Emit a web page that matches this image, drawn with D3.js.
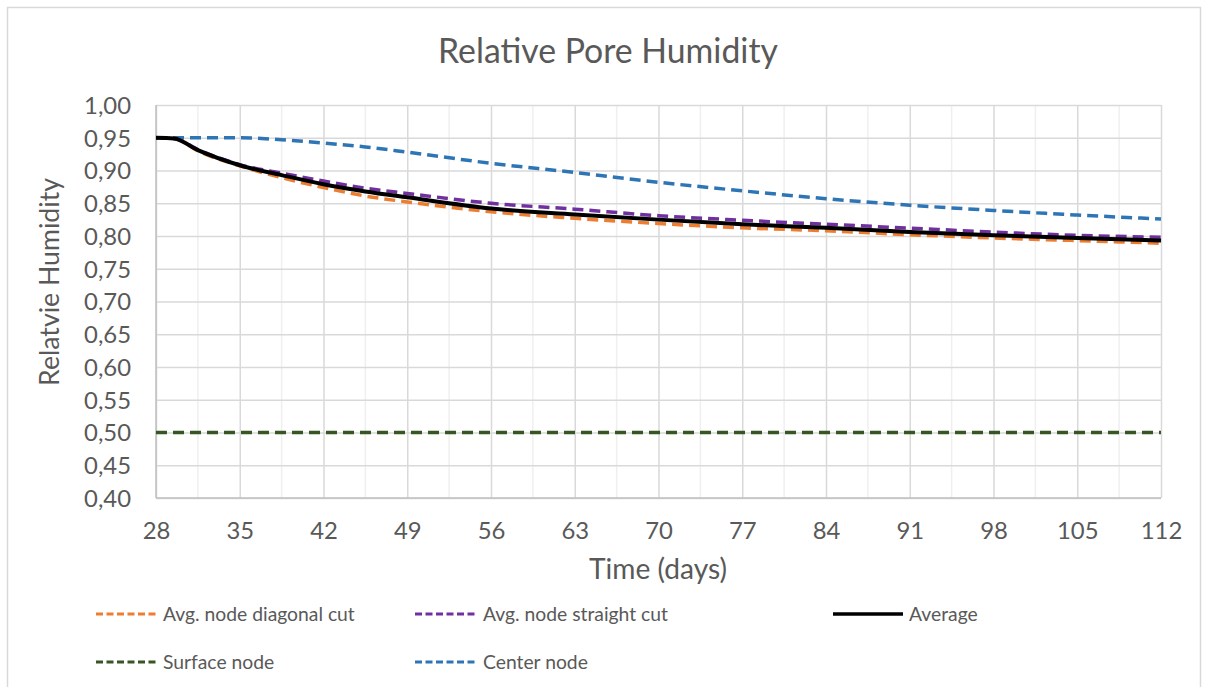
<!DOCTYPE html>
<html>
<head>
<meta charset="utf-8">
<script src="https://cdn.jsdelivr.net/npm/d3@7"></script>
<style>
  html, body { margin: 0; padding: 0; background: #fff; }
  svg { display: block; }
  text { font-family: Lato, "Open Sans", "Liberation Sans", sans-serif; fill: #595959; }
</style>
</head>
<body>
<svg id="chart" width="1209" height="687"></svg>
<script>
const days = [28, 29.5, 31.5, 35, 38.5, 42, 45.5, 49, 56, 63, 70, 77, 84, 91, 98, 105, 112];
const diagonalCut = [0.950, 0.949, 0.930, 0.907, 0.889, 0.874, 0.861, 0.852, 0.837, 0.827, 0.819, 0.8125, 0.808, 0.802, 0.797, 0.793, 0.789];
const straightCut = [0.950, 0.949, 0.932, 0.909, 0.896, 0.884, 0.873, 0.865, 0.850, 0.841, 0.831, 0.824, 0.818, 0.812, 0.806, 0.801, 0.798];
const average     = [0.950, 0.949, 0.931, 0.908, 0.893, 0.879, 0.868, 0.859, 0.842, 0.833, 0.825, 0.818, 0.8125, 0.806, 0.801, 0.797, 0.793];
const surfaceNode = [0.50, 0.50, 0.50, 0.50, 0.50, 0.50, 0.50, 0.50, 0.50, 0.50, 0.50, 0.50, 0.50, 0.50, 0.50, 0.50, 0.50];
const centerNode  = [0.950, 0.950, 0.950, 0.950, 0.947, 0.942, 0.936, 0.928, 0.911, 0.897, 0.882, 0.869, 0.857, 0.847, 0.839, 0.832, 0.826];

const xTicks = [28, 35, 42, 49, 56, 63, 70, 77, 84, 91, 98, 105, 112];
const xMinorTicks = [31.5, 38.5, 45.5, 52.5, 59.5, 66.5, 73.5, 80.5, 87.5, 94.5, 101.5, 108.5];
const yTicks = [0.40, 0.45, 0.50, 0.55, 0.60, 0.65, 0.70, 0.75, 0.80, 0.85, 0.90, 0.95, 1.00];

const titleText = "Relative Pore Humidity";
const xLabel = "Time (days)";
const yLabel = "Relatvie Humidity";

const series = [
  { name: "Avg. node diagonal cut", values: diagonalCut, color: "#ED7D31", dash: true },
  { name: "Avg. node straight cut", values: straightCut, color: "#7030A0", dash: true },
  { name: "Average", values: average, color: "#000000", dash: false },
  { name: "Surface node", values: surfaceNode, color: "#375623", dash: true },
  { name: "Center node", values: centerNode, color: "#2E75B6", dash: true }
];

const svg = d3.select("#chart");
const plot = { left: 156, right: 1161, top: 105, bottom: 498 };

function fitText(sel, target) {
  const w = sel.node().getComputedTextLength();
  const fs = parseFloat(sel.style("font-size"));
  const nfs = fs * target / w;
  sel.style("font-size", nfs + "px");
  return nfs;
}

// outer frame
svg.append("rect").attr("x", 7.5).attr("y", 7.5).attr("width", 1193).attr("height", 720)
  .attr("fill", "none").attr("stroke", "#d9d9d9").attr("stroke-width", 1.5);

const x = d3.scaleLinear().domain([28, 112]).range([plot.left, plot.right]);
const y = d3.scaleLinear().domain([0.40, 1.00]).range([plot.bottom, plot.top]);

// minor vertical gridlines
svg.append("g").selectAll("line").data(xMinorTicks).join("line")
  .attr("x1", d => x(d)).attr("x2", d => x(d))
  .attr("y1", plot.top).attr("y2", plot.bottom)
  .attr("stroke", "#efefef").attr("stroke-width", 1.5);

// major vertical gridlines
svg.append("g")
  .attr("transform", `translate(0,${plot.bottom})`)
  .call(d3.axisBottom(x).tickValues(xTicks).tickSize(-(plot.bottom - plot.top)).tickFormat(""))
  .call(g => g.select(".domain").remove())
  .call(g => g.selectAll("line").attr("stroke", "#d9d9d9").attr("stroke-width", 1.5));

// horizontal gridlines
svg.append("g")
  .attr("transform", `translate(${plot.left},0)`)
  .call(d3.axisLeft(y).tickValues(yTicks).tickSize(-(plot.right - plot.left)).tickFormat(""))
  .call(g => g.select(".domain").remove())
  .call(g => g.selectAll("line").attr("stroke", "#d9d9d9").attr("stroke-width", 1.5));

// axis lines
svg.append("line").attr("x1", plot.left).attr("x2", plot.left).attr("y1", plot.top).attr("y2", plot.bottom)
  .attr("stroke", "#bfbfbf").attr("stroke-width", 1.5);
svg.append("line").attr("x1", plot.left).attr("x2", plot.right).attr("y1", plot.bottom).attr("y2", plot.bottom)
  .attr("stroke", "#bfbfbf").attr("stroke-width", 1.5);

// measure tick font size
const probe = svg.append("text").style("font-size", "20px").text("0,40");
const tickFs = fitText(probe, 47);
probe.remove();

// tick labels
const fmt = d => d3.format(".2f")(d).replace(".", ",");
const yAxis = svg.append("g")
  .attr("transform", `translate(${plot.left},0)`)
  .call(d3.axisLeft(y).tickValues(yTicks).tickSize(0).tickPadding(25).tickFormat(fmt));
yAxis.select(".domain").remove();
yAxis.selectAll("text").style("font-size", tickFs + "px").attr("fill", "#595959").attr("dy", "0.35em");

const xAxis = svg.append("g")
  .attr("transform", `translate(0,${plot.bottom})`)
  .call(d3.axisBottom(x).tickValues(xTicks).tickSize(0).tickPadding(24).tickFormat(d3.format("d")));
xAxis.select(".domain").remove();
xAxis.selectAll("text").style("font-size", tickFs + "px").attr("fill", "#595959");

// lines
const line = d3.line().x((d, i) => x(days[i])).y(d => y(d)).curve(d3.curveMonotoneX);
const drawOrder = [3, 4, 0, 1, 2];
drawOrder.forEach(k => {
  const s = series[k];
  svg.append("path").datum(s.values)
    .attr("d", line)
    .attr("fill", "none")
    .attr("stroke", s.color)
    .attr("stroke-width", s.dash ? 3.5 : 4)
    .attr("stroke-dasharray", s.dash ? "11,6" : null)
    .attr("stroke-linejoin", "round");
});

// title
const title = svg.append("text").attr("x", 608).attr("y", 63).attr("text-anchor", "middle")
  .style("font-size", "28px").text(titleText);
fitText(title, 340);

const xl = svg.append("text").attr("x", 658).attr("y", 579).attr("text-anchor", "middle")
  .style("font-size", "22px").text(xLabel);
fitText(xl, 138);

const yl = svg.append("text").attr("transform", `translate(59,282) rotate(-90)`).attr("text-anchor", "middle")
  .style("font-size", "22px").text(yLabel);
fitText(yl, 208);

// legend
const legendPos = [
  { lx: 96, tx: 163, yy: 614 },
  { lx: 415, tx: 483, yy: 614 },
  { lx: 833, tx: 909, yy: 614 },
  { lx: 96, tx: 163, yy: 662 },
  { lx: 415, tx: 483, yy: 662 }
];
const lprobe = svg.append("text").style("font-size", "20px").text(series[0].name);
const legFs = fitText(lprobe, 192);
lprobe.remove();
series.forEach((s, i) => {
  const p = legendPos[i];
  const lg = svg.append("g");
  lg.append("line").attr("x1", p.lx).attr("x2", s.dash ? p.lx + 61 : p.lx + 70)
    .attr("y1", p.yy).attr("y2", p.yy)
    .attr("stroke", s.color).attr("stroke-width", s.dash ? 2.8 : 3.5)
    .attr("stroke-dasharray", s.dash ? "7,3.5" : null);
  lg.append("text").attr("x", p.tx).attr("y", p.yy).attr("dy", "0.35em")
    .style("font-size", legFs + "px").text(s.name);
});
</script>
</body>
</html>
